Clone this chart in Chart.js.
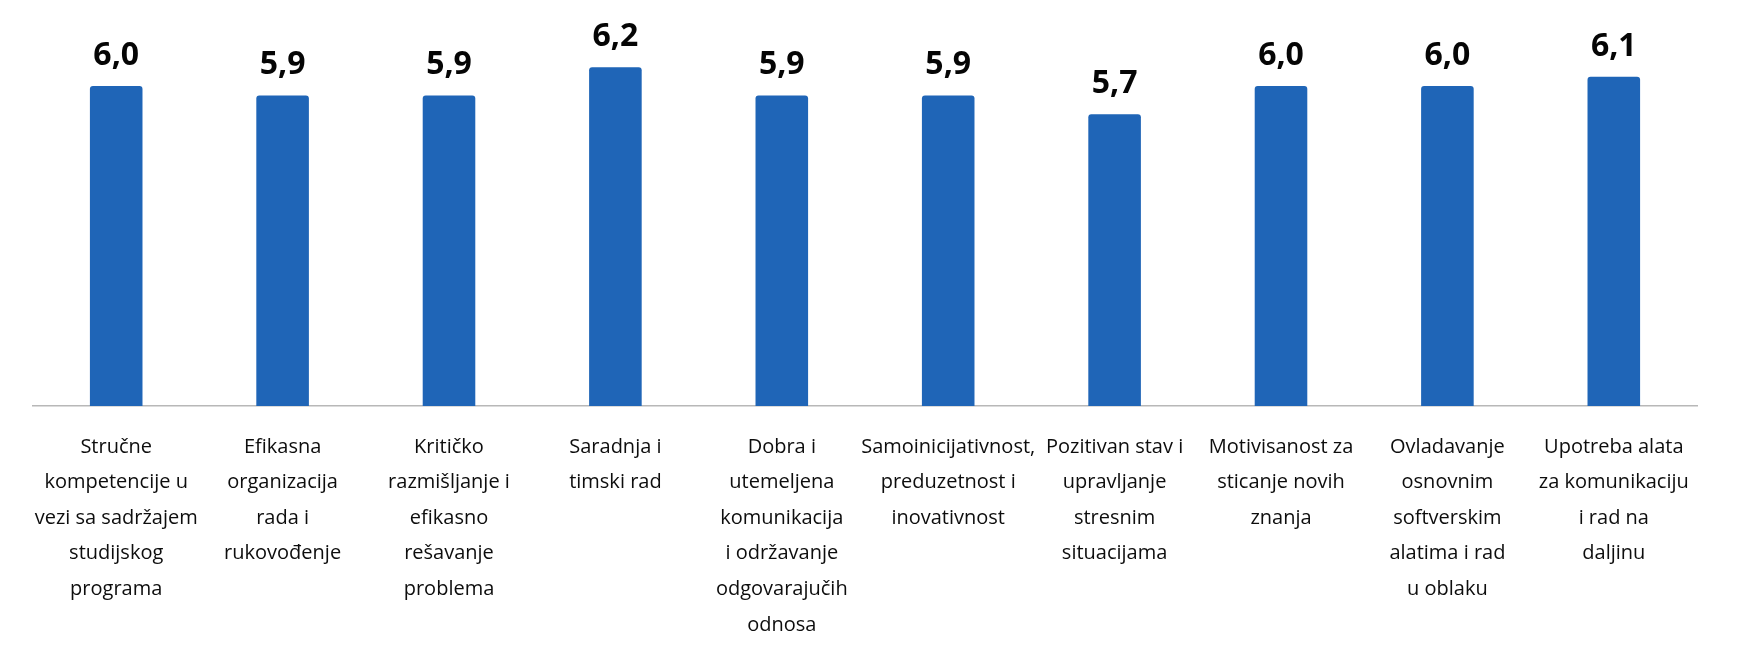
<!DOCTYPE html>
<html>
<head>
<meta charset="utf-8">
<script src="https://cdn.jsdelivr.net/npm/chart.js@4/dist/chart.umd.min.js"></script>
<style>
  html, body { margin: 0; padding: 0; background: #ffffff; }
  #wrap { width: 1740px; height: 652px; }
</style>
</head>
<body>
<div id="wrap"><canvas id="c" width="1740" height="652"></canvas></div>
<script>
const categories = [
  ["Stručne", "kompetencije u", "vezi sa sadržajem", "studijskog", "programa"],
  ["Efikasna", "organizacija", "rada i", "rukovođenje"],
  ["Kritičko", "razmišljanje i", "efikasno", "rešavanje", "problema"],
  ["Saradnja i", "timski rad"],
  ["Dobra i", "utemeljena", "komunikacija", "i održavanje", "odgovarajučih", "odnosa"],
  ["Samoinicijativnost,", "preduzetnost i", "inovativnost"],
  ["Pozitivan stav i", "upravljanje", "stresnim", "situacijama"],
  ["Motivisanost za", "sticanje novih", "znanja"],
  ["Ovladavanje", "osnovnim", "softverskim", "alatima i rad", "u oblaku"],
  ["Upotreba alata", "za komunikaciju", "i rad na", "daljinu"]
];
const values = [6.0, 5.9, 5.9, 6.2, 5.9, 5.9, 5.7, 6.0, 6.0, 6.1];

const BAR_COLOR = '#1F65B7';

const valueLabels = {
  id: 'valueLabels',
  afterDatasetsDraw(chart) {
    const ctx = chart.ctx;
    const meta = chart.getDatasetMeta(0);
    ctx.save();
    ctx.font = 'bold 32px "Open Sans", "Noto Sans", sans-serif';
    ctx.fillStyle = '#050505';
    ctx.textAlign = 'center';
    ctx.textBaseline = 'alphabetic';
    meta.data.forEach((bar, i) => {
      const v = chart.data.datasets[0].data[i];
      ctx.fillText(v.toFixed(1).replace('.', ','), bar.x, bar.y - 21);
    });
    ctx.restore();
  }
};

new Chart(document.getElementById('c'), {
  type: 'bar',
  data: {
    labels: categories,
    datasets: [{
      data: values,
      backgroundColor: BAR_COLOR,
      borderRadius: 3,
      borderSkipped: 'bottom',
      categoryPercentage: 1.0,
      barPercentage: 0.316
    }]
  },
  options: {
    responsive: false,
    animation: false,
    devicePixelRatio: 1,
    layout: { padding: { left: 33, right: 43, top: 39, bottom: 0 } },
    plugins: {
      legend: { display: false },
      tooltip: { enabled: false }
    },
    scales: {
      x: {
        grid: { display: false, drawTicks: false },
        border: { display: true, color: '#b8b8b8', width: 1.5 },
        ticks: {
          color: '#0d0d0d',
          font: { family: '"Open Sans", "Noto Sans", sans-serif', size: 20, lineHeight: 1.78 },
          padding: 23,
          maxRotation: 0,
          minRotation: 0,
          autoSkip: false
        },
        afterFit(scale) { scale.height = 246; }
      },
      y: {
        display: false,
        min: 2.6,
        max: 6.5
      }
    }
  },
  plugins: [valueLabels]
});
</script>
</body>
</html>
